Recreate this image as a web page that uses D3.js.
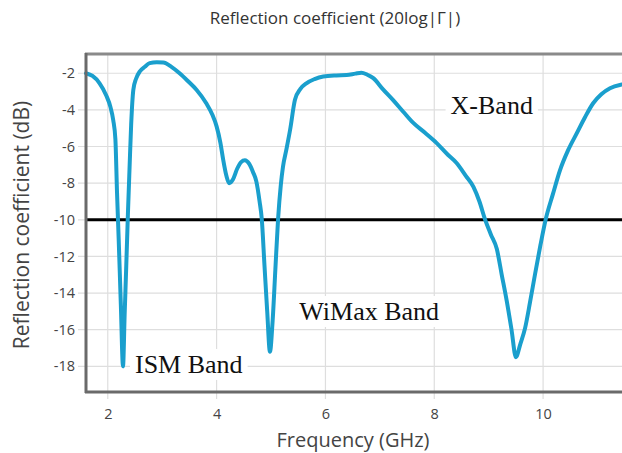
<!DOCTYPE html>
<html>
<head>
<meta charset="utf-8">
<script src="https://cdn.jsdelivr.net/npm/d3@7"></script>
<style>
  html, body { margin: 0; padding: 0; background: #fff; }
  svg { display: block; }
</style>
</head>
<body>
<svg id="chart" width="622" height="453"></svg>
<script>
// Frequency sweep (GHz) and measured |S11| in dB
const freqGHz = [1.6, 1.72, 1.85, 1.97, 2.05, 2.10, 2.14, 2.17, 2.20, 2.24, 2.28, 2.31, 2.34, 2.37, 2.40, 2.43, 2.47, 2.52, 2.59, 2.68,
  2.77, 2.9, 3.02, 3.17, 3.32, 3.48, 3.63, 3.81, 3.92, 4.0, 4.07, 4.12, 4.18, 4.23, 4.30, 4.38, 4.45, 4.52, 4.60, 4.67,
  4.73, 4.79, 4.83, 4.88, 4.93, 4.98, 5.03, 5.08, 5.13, 5.18, 5.22, 5.28, 5.35, 5.44, 5.54, 5.65, 5.8, 5.96, 6.2, 6.39,
  6.55, 6.66, 6.77, 6.88, 7.05, 7.24, 7.43, 7.61, 7.83, 8.04, 8.25, 8.41, 8.58, 8.72, 8.83, 8.93, 9.04, 9.15, 9.24, 9.33,
  9.42, 9.5, 9.58, 9.67, 9.76, 9.85, 9.95, 10.05, 10.18, 10.31, 10.46, 10.62, 10.77, 10.92, 11.07, 11.23, 11.41, 11.45];
const reflectionDB = [-2.0, -2.15, -2.55, -3.2, -3.85, -4.55, -5.6, -8.5, -11.0, -14.6, -18.0, -15.2, -12.5, -9.7, -7.2, -4.8, -2.9, -2.3, -1.9, -1.65,
  -1.45, -1.4, -1.42, -1.65, -2.0, -2.45, -2.9, -3.64, -4.25, -4.9, -5.8, -6.7, -7.6, -8.0, -7.8, -7.2, -6.85, -6.75, -6.95, -7.4,
  -7.9, -9.0, -9.95, -12.5, -15.0, -17.2, -15.5, -12.7, -9.95, -8.1, -7.1, -6.2, -5.1, -3.45, -2.85, -2.55, -2.32, -2.18, -2.12, -2.1,
  -2.02, -1.97, -2.08, -2.27, -2.85, -3.45, -4.1, -4.7, -5.25, -5.8, -6.45, -6.9, -7.6, -8.2, -9.0, -9.95, -10.8, -11.6, -13.0, -14.4,
  -16.0, -17.5, -16.8, -15.9, -14.5, -13.0, -11.4, -9.95, -8.6, -7.3, -6.2, -5.27, -4.4, -3.64, -3.15, -2.82, -2.64, -2.62];

const xTicks = [2, 4, 6, 8, 10];
const yTicks = [-2, -4, -6, -8, -10, -12, -14, -16, -18];
const thresholdDB = [-10];

// Band annotations: label text and anchor point (GHz, dB)
const bandNames = ["X-Band", "WiMax Band", "ISM Band"];
const bandFreq = [8.3, 5.52, 2.5];
const bandDB = [-4.25, -15.47, -18.36];

const chartTitle = "Reflection coefficient (20log|Γ|)";
const xTitle = "Frequency (GHz)";
const yTitle = "Reflection coefficient (dB)";

const svg = d3.select("#chart");
const plot = { left: 86, right: 622, top: 54, bottom: 392 };

const x = d3.scaleLinear().domain([1.6, 11.45]).range([plot.left, plot.right]);
const y = d3.scaleLinear().domain([-19.4, -0.95]).range([plot.bottom, plot.top]);

const uiFont = "'Open Sans', 'Noto Sans', sans-serif";

// Title
svg.append("text")
  .attr("x", 335).attr("y", 24)
  .attr("text-anchor", "middle")
  .attr("font-family", uiFont).attr("font-size", 17).attr("fill", "#333")
  .text(chartTitle);

// Gridlines
const grid = svg.append("g");
grid.selectAll("line.gx").data(xTicks).join("line")
  .attr("x1", d => x(d)).attr("x2", d => x(d))
  .attr("y1", plot.top).attr("y2", plot.bottom + 7)
  .attr("stroke", "#dedede").attr("stroke-width", 1.2);
grid.selectAll("line.gy").data(yTicks).join("line")
  .attr("x1", plot.left - 8).attr("x2", plot.right)
  .attr("y1", d => y(d)).attr("y2", d => y(d))
  .attr("stroke", "#dedede").attr("stroke-width", 1.2);

// Axes (labels only; tick marks come from the gridlines)
const xAxis = svg.append("g")
  .attr("transform", `translate(0,${plot.bottom})`)
  .call(d3.axisBottom(x).tickValues(xTicks).tickSize(0).tickPadding(17).tickFormat(d3.format("d")));
const yAxis = svg.append("g")
  .attr("transform", `translate(${plot.left},0)`)
  .call(d3.axisLeft(y).tickValues(yTicks).tickSize(0).tickPadding(11).tickFormat(d => d3.format("d")(d).replace("−", "-")));
[xAxis, yAxis].forEach(a => {
  a.select(".domain").remove();
  a.selectAll("text").attr("font-family", uiFont).attr("font-size", 14.5).attr("fill", "#444");
});

// Band annotations with white backing boxes
const notes = svg.append("g");
bandNames.forEach((name, i) => {
  const g = notes.append("g");
  const t = g.append("text")
    .attr("x", x(bandFreq[i])).attr("y", y(bandDB[i]))
    .attr("font-family", "'Liberation Serif', 'Times New Roman', serif")
    .attr("font-size", 26).attr("fill", "#111")
    .text(name);
  const b = t.node().getBBox();
  g.insert("rect", "text")
    .attr("x", b.x - 5).attr("y", b.y - 1)
    .attr("width", b.width + 10).attr("height", b.height + 2)
    .attr("fill", "#fff");
});

// -10 dB reference line
svg.selectAll("line.thr").data(thresholdDB).join("line")
  .attr("x1", plot.left).attr("x2", plot.right)
  .attr("y1", d => y(d)).attr("y2", d => y(d))
  .attr("stroke", "#000").attr("stroke-width", 3);

// Reflection curve
const pts = freqGHz.map((f, i) => [f, reflectionDB[i]]);
svg.append("path")
  .datum(pts)
  .attr("fill", "none")
  .attr("stroke", "#1a9fcd")
  .attr("stroke-width", 4)
  .attr("stroke-linejoin", "round")
  .attr("stroke-linecap", "round")
  .attr("d", d3.line().x(d => x(d[0])).y(d => y(d[1])).curve(d3.curveMonotoneX));

// Plot frame: top, left and bottom edges
svg.append("line").attr("x1", plot.left - 1).attr("x2", plot.right).attr("y1", plot.top).attr("y2", plot.top)
  .attr("stroke", "#8a8a8a").attr("stroke-width", 3);
svg.append("line").attr("x1", plot.left).attr("x2", plot.left).attr("y1", plot.top - 1).attr("y2", plot.bottom + 1)
  .attr("stroke", "#6a6a6a").attr("stroke-width", 3);
svg.append("line").attr("x1", plot.left - 1).attr("x2", plot.right).attr("y1", plot.bottom).attr("y2", plot.bottom)
  .attr("stroke", "#6a6a6a").attr("stroke-width", 3);

// Axis titles
svg.append("text")
  .attr("x", 353).attr("y", 447)
  .attr("text-anchor", "middle")
  .attr("font-family", uiFont).attr("font-size", 20).attr("fill", "#444")
  .text(xTitle);
svg.append("text")
  .attr("transform", "translate(29,225) rotate(-90)")
  .attr("text-anchor", "middle")
  .attr("font-family", uiFont).attr("font-size", 21).attr("fill", "#444")
  .text(yTitle);
</script>
</body>
</html>
